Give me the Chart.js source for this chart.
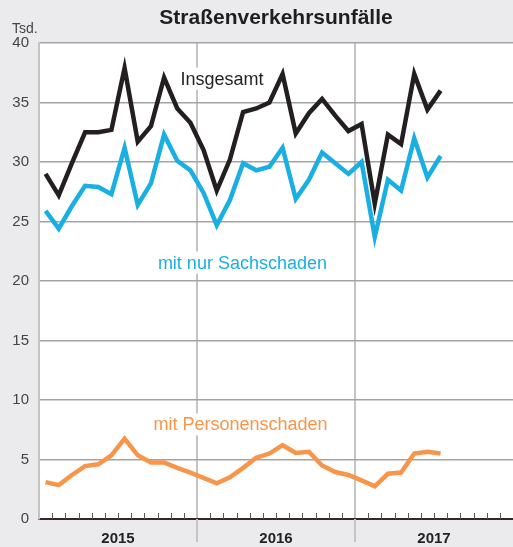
<!DOCTYPE html>
<html lang="de">
<head>
<meta charset="utf-8">
<title>Straßenverkehrsunfälle</title>
<script src="https://cdn.jsdelivr.net/npm/chart.js@4/dist/chart.umd.min.js"></script>
<style>
  html, body { margin: 0; padding: 0; background: #ebebed; }
  #wrap { width: 513px; height: 547px; position: relative; }
</style>
</head>
<body>
<div id="wrap"><canvas id="chart"></canvas></div>
<script>
// Straßenverkehrsunfälle, monatlich in Tsd. (Jan 2015 - Jul 2017)
const jahre = ['2015', '2016', '2017'];
const monatsnamen = ['Jan','Feb','Mär','Apr','Mai','Jun','Jul','Aug','Sep','Okt','Nov','Dez'];
const yTicks = [0, 5, 10, 15, 20, 25, 30, 35, 40];

const insgesamt = [29.0, 27.2, 29.9, 32.5, 32.5, 32.7, 37.9, 31.7, 33.0, 37.1, 34.5, 33.3,
                   31.0, 27.6, 30.2, 34.2, 34.5, 35.0, 37.4, 32.4, 34.1, 35.3, 33.9, 32.6,
                   33.2, 26.5, 32.3, 31.5, 37.4, 34.4, 36.0];
const sachschaden = [25.9, 24.4, 26.3, 28.0, 27.9, 27.3, 31.2, 26.4, 28.2, 32.3, 30.1, 29.3,
                     27.4, 24.7, 26.8, 29.9, 29.3, 29.6, 31.2, 26.9, 28.5, 30.8, 29.9, 29.0,
                     30.0, 23.7, 28.5, 27.6, 32.0, 28.7, 30.5];
const personenschaden = [3.1, 2.85, 3.7, 4.45, 4.6, 5.35, 6.75, 5.35, 4.75, 4.75, 4.3, 3.9,
                         3.45, 3.0, 3.5, 4.3, 5.15, 5.5, 6.2, 5.55, 5.65, 4.5, 3.95, 3.7,
                         3.25, 2.75, 3.8, 3.9, 5.5, 5.65, 5.5];

// month labels for the whole axis (3 years)
const monate = [];
jahre.forEach(j => monatsnamen.forEach(m => monate.push(m + ' ' + j)));

const SCHWARZ = '#231f20';
const BLAU = '#1aafe3';
const ORANGE = '#f7954a';

// points sit in the middle of their month
function toPoints(arr){
  return arr.map((v, i) => ({ x: i + 0.5, y: v }));
}

// text labels placed in data units (x = months from Jan 2015, y = Tsd.)
const beschriftungen = [
  { text: 'Insgesamt', x: 13.9, y: 37.0, color: SCHWARZ },
  { text: 'mit nur Sachschaden', x: 15.45, y: 21.55, color: BLAU },
  { text: 'mit Personenschaden', x: 15.3, y: 7.95, color: ORANGE }
];

const decoPlugin = {
  id: 'deco',
  beforeDraw(chart){
    const { ctx, chartArea: a } = chart;
    ctx.save();
    ctx.fillStyle = '#ffffff';
    ctx.fillRect(a.left, a.top, a.right - a.left, a.bottom - a.top);
    ctx.restore();
  },
  beforeDatasetsDraw(chart){
    const { ctx, chartArea: a, scales } = chart;
    const x = scales.x;
    ctx.save();
    // small month ticks above the axis
    ctx.strokeStyle = '#555';
    ctx.lineWidth = 1;
    for (let i = 1; i < monate.length; i++){
      if (i % 12 === 0) continue;
      const px = Math.round(x.getPixelForValue(i)) + 0.5;
      ctx.beginPath();
      ctx.moveTo(px, a.bottom - 6);
      ctx.lineTo(px, a.bottom);
      ctx.stroke();
    }
    // year separators continue into the label band
    ctx.strokeStyle = '#c4c4c4';
    ctx.lineWidth = 2;
    for (let i = 12; i < monate.length; i += 12){
      const px = x.getPixelForValue(i);
      ctx.beginPath();
      ctx.moveTo(px, a.bottom);
      ctx.lineTo(px, a.bottom + 23);
      ctx.stroke();
    }
    // series labels with a white box behind
    ctx.font = '18px "Liberation Sans", Arial, sans-serif';
    ctx.textAlign = 'center';
    ctx.textBaseline = 'middle';
    beschriftungen.forEach(b => {
      const px = x.getPixelForValue(b.x);
      const py = scales.y.getPixelForValue(b.y);
      const w = ctx.measureText(b.text).width;
      ctx.fillStyle = '#ffffff';
      ctx.fillRect(px - w / 2 - 4, py - 11, w + 8, 22);
      ctx.fillStyle = b.color;
      ctx.fillText(b.text, px, py + 1);
    });
    ctx.restore();
  },
  afterDraw(chart){
    const { ctx, chartArea: a } = chart;
    ctx.save();
    ctx.fillStyle = '#1e1e1e';
    ctx.font = 'bold 21px "Liberation Sans", Arial, sans-serif';
    ctx.textAlign = 'center';
    ctx.textBaseline = 'alphabetic';
    ctx.fillText('Straßenverkehrsunfälle', (a.left + a.right) / 2, 24);
    ctx.fillStyle = '#444';
    ctx.font = '14px "Liberation Sans", Arial, sans-serif';
    ctx.textAlign = 'left';
    ctx.fillText('Tsd.', 12, 33);
    ctx.restore();
  }
};

function lineSet(label, data, color){
  return {
    label,
    data: toPoints(data),
    borderColor: color,
    backgroundColor: color,
    borderWidth: 4.5,
    pointRadius: 0,
    tension: 0,
    borderJoinStyle: 'miter',
    fill: false
  };
}

const ctx = document.getElementById('chart').getContext('2d');
new Chart(ctx, {
  type: 'line',
  data: {
    datasets: [
      lineSet('Insgesamt', insgesamt, SCHWARZ),
      lineSet('mit nur Sachschaden', sachschaden, BLAU),
      lineSet('mit Personenschaden', personenschaden, ORANGE)
    ]
  },
  options: {
    responsive: true,
    maintainAspectRatio: false,
    animation: false,
    layout: { padding: { top: 43, left: 12, right: 0, bottom: 0 } },
    plugins: {
      legend: { display: false },
      tooltip: { enabled: false },
      title: { display: false }
    },
    scales: {
      x: {
        type: 'linear',
        min: 0,
        max: monate.length,
        afterFit(scale){
          scale.height = 28;
          scale.paddingLeft = 0;
          scale.paddingRight = 0;
        },
        ticks: {
          stepSize: 1,
          autoSkip: false,
          maxRotation: 0,
          padding: 11,
          color: '#222',
          font: { family: '"Liberation Sans", Arial, sans-serif', size: 15, weight: 'bold' },
          callback: v => (v % 12 === 6 ? jahre[(v - 6) / 12] : '')
        },
        grid: {
          drawTicks: false,
          lineWidth: 2,
          color: c => (c.tick && c.tick.value % 12 === 0 && c.tick.value > 0 && c.tick.value < monate.length) ? '#c4c4c4' : 'rgba(0,0,0,0)'
        },
        border: { display: true, color: '#3a2526', width: 2 }
      },
      y: {
        min: 0,
        max: 40,
        afterFit(scale){ scale.width = 27; },
        afterBuildTicks(scale){ scale.ticks = yTicks.map(v => ({ value: v })); },
        ticks: {
          padding: 10,
          color: '#444',
          font: { family: '"Liberation Sans", Arial, sans-serif', size: 15 }
        },
        grid: { drawTicks: false, color: '#a3a3a3', lineWidth: 1.5 },
        border: { display: true, color: '#c4c4c4', width: 2 }
      }
    }
  },
  plugins: [decoPlugin]
});
</script>
</body>
</html>
